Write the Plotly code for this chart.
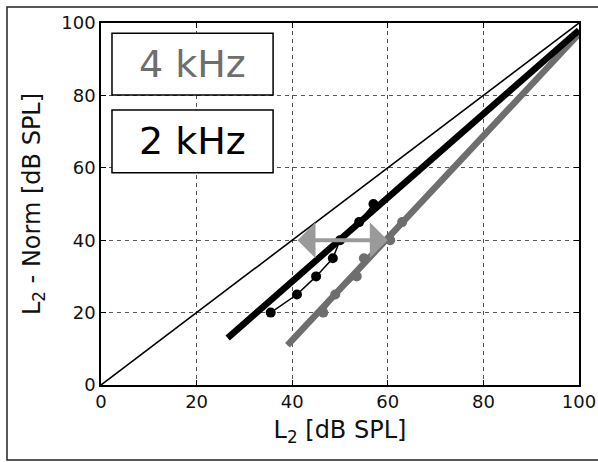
import plotly.graph_objects as go

# ---- data ----
l2_2k = [35.5, 41, 45, 48.5, 50, 54, 57]
norm_2k = [20, 25, 30, 35, 40, 45, 50]
l2_4k = [46.5, 49, 53.5, 55, 60.5, 63]
norm_4k = [20, 25, 30, 35, 40, 45]
fit_2k_x = [26.5, 100]
fit_2k_y = [13, 98]
fit_4k_x = [39, 100]
fit_4k_y = [11, 97]
diag_x = [0, 100]
diag_y = [0, 100]
arrow_x = [40.8, 60]
arrow_y = 40
ticks = [0, 20, 40, 60, 80, 100]
labels = ["4 kHz", "2 kHz"]

BLACK = "#000000"
GRAY = "#6e6e6e"
LGRAY = "#9a9a9a"
FONT = "DejaVu Sans, Arial, sans-serif"

W, H = 598, 462
ML, MR, MT, MB = 101, 19, 23, 77
PW, PH = W - ML - MR, H - MT - MB

fig = go.Figure()
fig.add_trace(go.Scatter(x=diag_x, y=diag_y, mode="lines",
                         line=dict(color=BLACK, width=1.6), showlegend=False))
fig.add_trace(go.Scatter(x=fit_4k_x, y=fit_4k_y, mode="lines",
                         line=dict(color=GRAY, width=6.5), showlegend=False))
fig.add_trace(go.Scatter(x=l2_4k, y=norm_4k, mode="lines+markers",
                         line=dict(color=GRAY, width=1.5),
                         marker=dict(color=GRAY, size=10), showlegend=False))
fig.add_trace(go.Scatter(x=fit_2k_x, y=fit_2k_y, mode="lines",
                         line=dict(color=BLACK, width=6.5), showlegend=False))
fig.add_trace(go.Scatter(x=l2_2k, y=norm_2k, mode="lines+markers",
                         line=dict(color=BLACK, width=1.5),
                         marker=dict(color=BLACK, size=10), showlegend=False))

# double-headed arrow
fig.add_annotation(x=arrow_x[1], y=arrow_y, ax=arrow_x[0], ay=arrow_y,
                   xref="x", yref="y", axref="x", ayref="y", text="",
                   showarrow=True, arrowhead=1, arrowside="end+start",
                   arrowwidth=4, arrowsize=1.5, arrowcolor=LGRAY)

# label boxes
boxes = [(2.3, 36, 80.1, 97.2, GRAY), (2.3, 36, 58.6, 76, BLACK)]
for (x0, x1, y0, y1, col), lab in zip(boxes, labels):
    fig.add_shape(type="rect", x0=x0, x1=x1, y0=y0, y1=y1, xref="x", yref="y",
                  line=dict(color=BLACK, width=1.5), fillcolor="white", layer="above")
    fig.add_annotation(x=(x0 + x1) / 2, y=(y0 + y1) / 2, xref="x", yref="y",
                       text=lab, showarrow=False,
                       font=dict(family=FONT, size=38, color=col))

# outer figure frame (left, top, bottom visible; right runs off the page)
fig.add_shape(type="rect", xref="paper", yref="paper",
              x0=(7 - ML) / PW, x1=(W + 20 - ML) / PW,
              y0=-(460 - (H - MB)) / PH, y1=((H - MB) - 7) / PH,
              line=dict(color="#222", width=1.5), fillcolor="rgba(0,0,0,0)", layer="above")

axis_common = dict(range=[0, 100], tickvals=ticks, ticktext=[str(t) for t in ticks],
                   showline=True, linecolor=BLACK, linewidth=1.5, mirror="ticks",
                   ticks="inside", ticklen=5, tickcolor=BLACK, automargin=False,
                   showgrid=True, gridcolor="#555555", griddash="4px,4px", gridwidth=1,
                   zeroline=False, tickfont=dict(family=FONT, size=18, color="#111"))

fig.update_xaxes(**axis_common,
                 title=dict(text="L<sub>2</sub> [dB SPL]", standoff=10,
                            font=dict(family=FONT, size=24, color="#111")))
fig.update_yaxes(**axis_common,
                 title=dict(text="L<sub>2</sub> - Norm [dB SPL]", standoff=14,
                            font=dict(family=FONT, size=24, color="#111")))

fig.update_layout(width=W, height=H, plot_bgcolor="white", paper_bgcolor="white",
                  margin=dict(l=ML, r=MR, t=MT, b=MB, autoexpand=False), showlegend=False)

fig.write_html("out.html", config={"displayModeBar": False},
               post_script="document.body.style.margin='0';"
                           "document.body.style.overflow='hidden';")
